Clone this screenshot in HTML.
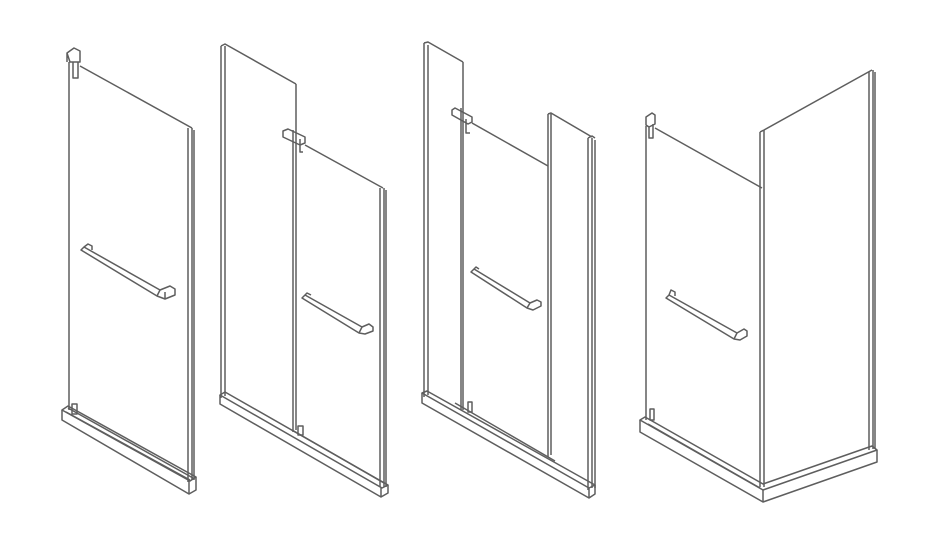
<!DOCTYPE html>
<html><head><style>html,body{margin:0;padding:0;background:#fff}svg{display:block}</style></head>
<body>
<svg width="929" height="553" viewBox="0 0 929 553" xmlns="http://www.w3.org/2000/svg" fill="none" stroke="#5e5e5e" stroke-width="1.5" stroke-linejoin="round">
<!-- FIGURE 1 -->
<g>
<path d="M69 62 L69 410"/>
<path d="M80 66 L192 128"/>
<path d="M188 128 L188 482 M192 128 L192 480 M194 130 L194 480"/>
<path d="M67 53 L74 48 L80 51 L80 62 L70 62 Z M67 53 L67 62 M73 62 L73 78 L78 78 L78 62"/>
<path d="M62 410 L68 406 L196 477 L190 481 Z"/>
<path d="M62 410 L62 420 L189 494 L189 481"/>
<path d="M189 494 L196 490 L196 477"/>
<path d="M66 412 L190 480 M68 408 L193 478"/>
<path d="M72 404 L72 414 L77 414 L77 404 Z"/>
<path d="M81 250 L84 247 L160 290 L157 296 Z M84 247 L88 244 L92 246 L92 250 M160 290 L170 286 L175 289 L175 295 L165 299 L157 296 M165 292 L165 299"/>
</g>
<!-- FIGURE 2 -->
<g>
<path d="M221 46 L221 398 M225 46 L225 396 M221 46 L225 44 L296 84"/>
<path d="M296 84 L296 430 M293 130 L293 432"/>
<path d="M283 131 L288 129 L305 137 L305 143 L300 145 L283 137 Z M300 139 L300 152 L303 152"/>
<path d="M305 145 L383 188"/>
<path d="M380 188 L380 487 M384 188 L384 487 M386 190 L386 487"/>
<path d="M220 395 L225 392 L388 485 L382 488 Z"/>
<path d="M220 395 L220 404 L381 497 L381 488 M381 497 L388 493 L388 485"/>
<path d="M292 430 L384 483"/>
<path d="M298 426 L298 435 L303 435 L303 426 Z"/>
<path d="M302 298 L305 295 L362 327 L359 333 Z M305 295 L307 293 L311 295 M362 327 L369 324 L373 327 L373 331 L365 334 L359 333"/>
</g>
<!-- FIGURE 3 -->
<g>
<path d="M424 43 L424 397 M428 45 L428 395 M424 43 L428 42 L463 62"/>
<path d="M463 62 L463 410 M461 108 L461 410"/>
<path d="M452 110 L455 108 L472 117 L472 122 L468 124 L452 115 Z M466 119 L466 133 L470 133"/>
<path d="M472 123 L548 166"/>
<path d="M548 114 L548 457 M551 114 L551 455 M548 114 L551 113 L592 137"/>
<path d="M588 138 L588 490 M592 138 L592 488 M595 140 L595 488 M588 138 L592 136 L595 138"/>
<path d="M422 393 L427 391 L595 485 L589 488 Z"/>
<path d="M422 393 L422 403 L589 498 L589 488 M589 498 L595 494 L595 485"/>
<path d="M455 403 L555 461"/>
<path d="M468 402 L468 412 L472 412 L472 402 Z"/>
<path d="M471 272 L474 269 L530 303 L527 308 Z M474 269 L476 267 L479 269 M530 303 L537 300 L541 302 L541 306 L533 310 L527 308"/>
</g>
<!-- FIGURE 4 -->
<g>
<path d="M646 117 L652 113 L655 115 L655 124 L649 127 L646 125 Z M649 127 L649 138 L653 138 L653 124"/>
<path d="M646 126 L646 420"/>
<path d="M655 128 L762 188"/>
<path d="M760 132 L760 487 M764 130 L764 487 M760 132 L764 130"/>
<path d="M764 130 L872 70"/>
<path d="M869 72 L869 450 M873 70 L873 449 M875 72 L875 449"/>
<path d="M640 420 L645 417 L763 484 L872 446 L877 450 L763 490 Z"/>
<path d="M640 420 L640 432 L763 502 L877 462 L877 450"/>
<path d="M763 490 L763 502"/>
<path d="M648 424 L760 488"/>
<path d="M650 409 L650 420 L654 420 L654 409 Z"/>
<path d="M666 298 L669 295 L737 333 L734 339 Z M669 295 L671 290 L675 292 L675 296 M737 333 L744 329 L747 331 L747 336 L740 340 L734 339"/>
</g>
</svg>
</body></html>
